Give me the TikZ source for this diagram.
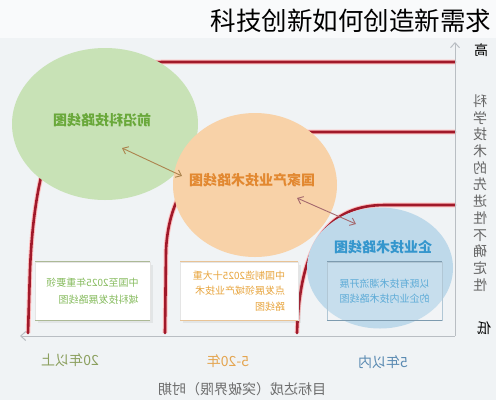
\documentclass[tikz,border=0pt]{standalone}
\usepackage{fontspec}
\setmainfont{Noto Sans CJK SC}
\usepackage[svgnames, dvipsnames]{xcolor}
\usetikzlibrary{calc, arrows.meta, shapes.geometric, shadows}
\tikzset{>=latex}

\definecolor{pagebg}{RGB}{240,243,245}
\definecolor{stepred}{RGB}{160,25,42}
\definecolor{greenfill}{RGB}{200,226,182}
\definecolor{greentext}{RGB}{105,168,58}
\definecolor{orangefill}{RGB}{248,210,168}
\definecolor{orangetext}{RGB}{226,136,48}
\definecolor{bluefill}{RGB}{190,217,234}
\definecolor{bluetext}{RGB}{52,150,205}
\definecolor{axisgray}{RGB}{185,190,195}
\definecolor{longtext}{RGB}{140,160,95}
\definecolor{midtext}{RGB}{228,165,80}
\definecolor{shorttext}{RGB}{90,138,178}
\definecolor{linkbrown}{RGB}{172,132,78}
\definecolor{linkrose}{RGB}{165,105,110}
\definecolor{boxgreen}{RGB}{135,188,95}
\definecolor{boxorange}{RGB}{232,165,62}
\definecolor{edgegreen}{RGB}{172,185,150}
\definecolor{edgeorange}{RGB}{232,195,150}
\definecolor{edgeblue}{RGB}{125,155,175}
\tikzset{
  stepline/.style={line width=2.6pt, stepred, line cap=round,
    preaction={draw, line width=4.6pt, red!25}},
  roadmap/.style={ellipse, inner sep=0pt},
  maplabel/.style={xscale=-1, font=\fontsize{14}{14}\selectfont\bfseries},
  infobox/.style={rectangle, fill=white, draw=gray!20, minimum width=115pt,
    minimum height=58pt, align=left, xscale=-1,
    font=\fontsize{10}{15.5}\selectfont},
  link/.style={{Straight Barb[length=5pt,width=8pt]}-{Straight Barb[length=5pt,width=8pt]}, line width=0.9pt},
  axis/.style={axisgray, line width=1pt, -{Straight Barb[length=5pt,width=9pt]}},
  axislabel/.style={xscale=-1, font=\fontsize{14}{14}\selectfont}
}

\begin{document}
\begin{tikzpicture}[x=1pt, y=-1pt]
\fill[pagebg] (0,0) rectangle (496,400);
\fill[white!60!pagebg] (0,0) rectangle (496,38);
\node[font=\fontsize{25.5}{25.5}\selectfont] (title) at (351,21) {科技创新如何创造新需求};

% steps
\draw[stepline] (28,333) -- (30,270) .. controls (36,120) and (80,62) .. (165,62) -- (455,62);
\draw[stepline] (165,333) -- (166,250) .. controls (170,170) and (225,132) .. (305,132) -- (455,132);
\draw[stepline] (297,333) .. controls (300,240) and (330,205) .. (385,205) -- (455,205);

% axes
\coordinate (origin) at (455,336);
\coordinate (ytop) at (455,42);
\coordinate (xend) at (20,336);
\draw[axis] (origin) -- (ytop);
\draw[axis] (origin) -- (xend);
\node[axislabel] (high) at (481,50) {高};
\node[axislabel] (low) at (484,328) {低};
\node[axislabel, align=center, font=\fontsize{14}{16.7}\selectfont, text=gray!80!black] (yname) at (480,193)
  {科\\学\\技\\术\\的\\先\\进\\性\\不\\确\\定\\性};
\node[axislabel, text=longtext] (long) at (70,360) {20年以上};
\node[axislabel, text=midtext] (mid) at (228,361) {5-20年};
\node[axislabel, text=shorttext] (short) at (383,362) {5年以内};
\node[axislabel, text=gray!85!black] (xname) at (242,389) {目标达成（突破界限）时期};

% roadmaps
\node[roadmap, fill=greenfill, minimum width=186pt, minimum height=152pt] (front) at (105,124) {};
\node[roadmap, fill=orangefill, minimum width=164pt, minimum height=144pt] (nation) at (255,185) {};
\node[roadmap, fill=bluefill, minimum width=146pt, minimum height=121pt] (firm) at (380,268) {};
\node[maplabel, text=greentext] (frontname) at (102,120) {前沿科技路线图};
\node[maplabel, text=orangetext] (nationname) at (252,180) {国家产业技术路线图};
\node[maplabel, text=bluetext] (firmname) at (383,247) {企业技术路线图};

\coordinate (fa) at (122,148);
\coordinate (fb) at (182,176);
\coordinate (na) at (297,198);
\coordinate (nb) at (356,224);
\draw[link, linkbrown] (fa) -- (fb);
\draw[link, linkrose] (na) -- (nb);

% boxes
\node[infobox, drop shadow={opacity=0.12}, text=boxgreen, font=\fontsize{10}{17}\selectfont] (frontbox) at (92.5,291)
  {中国至2025年重要领\\域科技发展路线图};
\node[infobox, drop shadow={opacity=0.12}, minimum width=118pt, text=boxorange] (nationbox) at (239,291)
  {中国制造2025十大重\\点发展领域产业技术\\路线图};
\node[infobox, fill=white, fill opacity=0.15, text opacity=1, draw=bluefill!80!gray, text=bluetext!80, font=\fontsize{10}{15}\selectfont] (firmbox) at (384.5,291)
  {以既有技术潮流开展\\的企业内技术路线图};
\draw[line width=1.3pt, edgegreen] (frontbox.north west) -- (frontbox.north east)
  (frontbox.south west) -- (frontbox.south east);
\draw[line width=1.3pt, edgeorange] (nationbox.north west) -- (nationbox.north east)
  (nationbox.south west) -- (nationbox.south east);
\draw[line width=1.3pt, edgeblue] (firmbox.north west) -- (firmbox.north east)
  (firmbox.south west) -- (firmbox.south east);
\end{tikzpicture}
\end{document}
